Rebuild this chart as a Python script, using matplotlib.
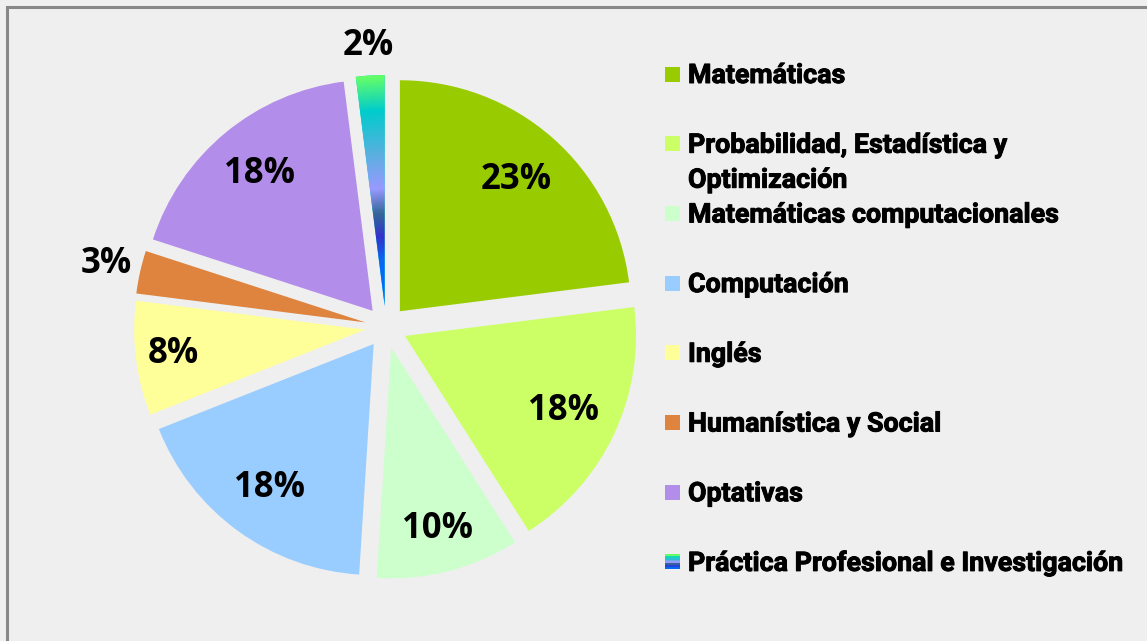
import matplotlib
matplotlib.use("Agg")

import numpy as np
import matplotlib.pyplot as plt
import matplotlib.patheffects as pe
from matplotlib.colors import LinearSegmentedColormap
from matplotlib.patches import Rectangle

W, H = 1147, 641

# distribución de créditos por área
areas = [
    "Matemáticas",
    "Probabilidad, Estadística y\nOptimización",
    "Matemáticas computacionales",
    "Computación",
    "Inglés",
    "Humanística y Social",
    "Optativas",
    "Práctica Profesional e Investigación",
]
porcentajes = [23, 18, 10, 18, 8, 3, 18, 2]
colores = ["#99CC00", "#CCFF66", "#CCFFCC", "#99CCFF",
           "#FFFF99", "#DF843F", "#B38DEA", "#00CCCC"]

# degradado de la última rebanada (del centro hacia afuera)
grad_pos = [0.0, 0.2, 0.3, 0.4, 0.51, 0.66, 0.85, 1.0]
grad_col = ["#0070FF", "#0A66F0", "#3333CC", "#336699",
            "#9999FF", "#5AB0E0", "#00CCCC", "#66FF66"]

BG = "#EFEFEF"
centro = (386, H - 327)
radio = 231
separacion = 21
dist_etiqueta = [0.76, 0.76, 0.81, 0.77, 0.835, 1.15, 0.77, 1.13]

fig = plt.figure(figsize=(W / 100, H / 100), dpi=100)
fig.patch.set_facecolor(BG)
ax = fig.add_axes([0, 0, 1, 1])

wedges, _ = ax.pie(porcentajes, colors=colores, startangle=90, counterclock=False,
                   radius=radio, center=centro, explode=[separacion] * len(porcentajes),
                   wedgeprops=dict(linewidth=0))
ax.set_xlim(0, W)
ax.set_ylim(0, H)
ax.set_aspect("equal")
ax.axis("off")

grueso = [pe.withStroke(linewidth=0.7, foreground="black")]

# etiquetas de porcentaje
total = sum(porcentajes)
ang = 90.0
for w, v, d in zip(wedges, porcentajes, dist_etiqueta):
    theta = np.deg2rad(ang - 360.0 * v / total / 2)
    ang -= 360.0 * v / total
    cx, cy = w.center
    ax.text(cx + d * radio * np.cos(theta), cy + d * radio * np.sin(theta), f"{v}%",
            ha="center", va="center", fontsize=25, fontweight="bold",
            family=["Open Sans", "DejaVu Sans"], color="black", zorder=6)

# rebanada con degradado radial
cmap = LinearSegmentedColormap.from_list("pav", list(zip(grad_pos, grad_col)))
w = wedges[-1]
cx, cy = w.center
xs = np.linspace(cx - radio, cx + radio, 500)
ys = np.linspace(cy - radio, cy + radio, 500)
X, Y = np.meshgrid(xs, ys)
r = np.clip(np.hypot(X - cx, Y - cy) / radio, 0, 1)
im = ax.imshow(cmap(r), extent=(xs[0], xs[-1], ys[0], ys[-1]), origin="lower",
               aspect="auto", interpolation="bilinear", zorder=3)
im.set_clip_path(w)

# leyenda
y0, paso, interlinea = 74, 69.7, 35
for i, (nombre, col) in enumerate(zip(areas, colores)):
    yc = H - (y0 + i * paso)
    if i == len(areas) - 1:
        bandas = cmap(np.linspace(1, 0.15, 8))[:, None, :3]
        ax.imshow(bandas, extent=(665, 680, yc - 7.5, yc + 7.5), aspect="auto",
                  interpolation="nearest", zorder=3)
    else:
        ax.add_patch(Rectangle((665, yc - 7.5), 15, 15, facecolor=col, linewidth=0))
    for j, linea in enumerate(nombre.split("\n")):
        ax.text(688, yc - 9 - j * interlinea, linea, ha="left", va="baseline",
                fontsize=19.3, fontweight="bold", family=["Roboto", "DejaVu Sans"],
                color="black", path_effects=grueso)
ax.set_xlim(0, W)
ax.set_ylim(0, H)

# marco del área del gráfico
ax.add_patch(Rectangle((7, -10), W + 10, H - 7 + 10, facecolor="none",
                       edgecolor="#888888", linewidth=2.2, zorder=5))

fig.savefig("out.png", dpi=100, facecolor=BG)
